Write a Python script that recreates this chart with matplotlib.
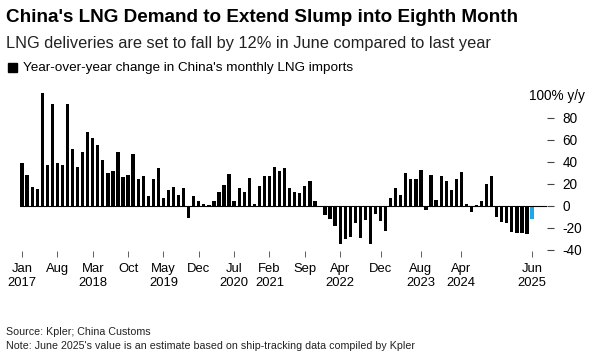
import matplotlib
matplotlib.use("Agg")
from matplotlib import pyplot as plt
import pandas as pd

plt.rcParams['font.family'] = ['Liberation Sans', 'DejaVu Sans']

# year-over-year change (%) in China's monthly LNG imports, Jan 2017 - Jun 2025
yoy_2017 = [39, 28, 17, 15, 103, 37, 93, 39, 37, 93, 52, 35]
yoy_2018 = [49, 67, 62, 55, 42, 30, 32, 49, 26, 28, 47, 24]
yoy_2019 = [27, 9, 24, 34, 7, 14, 17, 10, 16, -11, 9, 4]
yoy_2020 = [2, 1, 4, 13, 19, 29, 4, 16, 13, 25, 2, 18]
yoy_2021 = [27, 27, 35, 32, 34, 16, 13, 12, 18, 23, 4, 0]
yoy_2022 = [-8, -12, -18, -35, -30, -28, -16, -29, -13, -35, -7, -14]
yoy_2023 = [-23, 7, 16, 10, 30, 24, 24, 33, -4, 28, 5.5, 27]
yoy_2024 = [23, 14, 24, 31, 2, -6, 1, 4, 20, 27, -10, -15]
yoy_2025 = [-16, -24, -25, -25, -26, -12]  # June is an estimate

values = yoy_2017 + yoy_2018 + yoy_2019 + yoy_2020 + yoy_2021 + yoy_2022 + yoy_2023 + yoy_2024 + yoy_2025
months = pd.date_range('2017-01-01', periods=len(values), freq='MS')
df = pd.DataFrame({'month': months, 'yoy': values})

tick_months = ['2017-01', '2017-08', '2018-03', '2018-10', '2019-05', '2019-12', '2020-07',
               '2021-02', '2021-09', '2022-04', '2022-12', '2023-08', '2024-04', '2025-06']
tick_labels = ['Jan\n2017', 'Aug', 'Mar\n2018', 'Oct', 'May\n2019', 'Dec', 'Jul\n2020',
               'Feb\n2021', 'Sep', 'Apr\n2022', 'Dec', 'Aug\n2023', 'Apr\n2024', 'Jun\n2025']
y_ticks = [-40, -20, 0, 20, 40, 60, 80]

colors = ['#000000'] * (len(df) - 1) + ['#1fa8e6']

fig = plt.figure(figsize=(5.89, 3.6), dpi=100)
ax = fig.add_axes([0.034, 0.303, 0.895, 0.446])

x = range(len(df))
ax.bar(x, df['yoy'], width=0.65, color=colors, zorder=2)
ax.axhline(0, color='black', lw=0.8, zorder=3)

ax.set_xlim(-0.4, 104)
ax.set_ylim(-41, 105)

month_keys = list(df['month'].dt.strftime('%Y-%m'))
ax.set_xticks([month_keys.index(m) for m in tick_months])
ax.set_xticklabels(tick_labels, fontsize=9.4, linespacing=1.2)
ax.tick_params(axis='x', length=4, width=0.6, color='#444444', pad=5)

ax.yaxis.tick_right()
ax.set_yticks(y_ticks)
ax.set_yticklabels([str(v) for v in y_ticks], fontsize=9.8)
ax.tick_params(axis='y', length=5, width=0.8, color='#444444', pad=6)
ax.text(1.072, 100, '100% y/y', transform=ax.get_yaxis_transform(), ha='right',
        va='center', fontsize=9.8)

for s in ax.spines.values():
    s.set_visible(False)

# header
fig.text(0.011, 0.952, "China's LNG Demand to Extend Slump into Eighth Month",
         fontsize=13.6, fontweight='bold', va='center')
fig.text(0.011, 0.878, 'LNG deliveries are set to fall by 12% in June compared to last year',
         fontsize=11.8, va='center', color='#222222')
fig.patches.append(plt.Rectangle((0.014, 0.800), 0.015, 0.025, transform=fig.transFigure,
                                 color='black'))
fig.text(0.039, 0.812, "Year-over-year change in China's monthly LNG imports",
         fontsize=9.7, va='center')

# footer
fig.text(0.011, 0.078, 'Source: Kpler; China Customs', fontsize=7.7, va='center', color='#222222')
fig.text(0.011, 0.039, "Note: June 2025's value is an estimate based on ship-tracking data compiled by Kpler",
         fontsize=7.7, va='center', color='#222222')

plt.savefig('out.png', dpi=100)
